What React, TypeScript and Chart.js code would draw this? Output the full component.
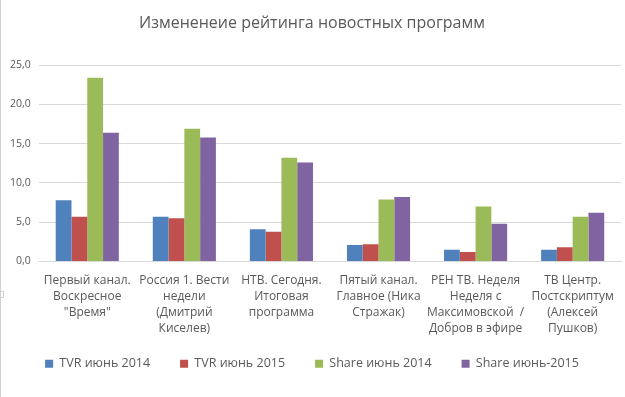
import React, { useEffect, useRef } from "react";
import { Chart, registerables } from "chart.js";

Chart.register(...registerables);

const categories: string[][] = [
  ["Первый канал.", "Воскресное", "\"Время\""],
  ["Россия 1. Вести", "недели", "(Дмитрий", "Киселев)"],
  ["НТВ. Сегодня.", "Итоговая", "программа"],
  ["Пятый канал.", "Главное (Ника", "Стражак)"],
  ["РЕН ТВ. Неделя", "Неделя с", "Максимовской  /", "Добров в эфире"],
  ["ТВ Центр.", "Постскриптум", "(Алексей", "Пушков)"],
];

const seriesNames = ["TVR июнь 2014", "TVR июнь 2015", "Share июнь 2014", "Share июнь-2015"];
const tvr2014 = [7.8, 5.7, 4.1, 2.1, 1.5, 1.5];
const tvr2015 = [5.7, 5.5, 3.8, 2.2, 1.2, 1.8];
const share2014 = [23.4, 16.9, 13.2, 7.9, 7.0, 5.7];
const share2015 = [16.4, 15.8, 12.6, 8.2, 4.8, 6.2];
const colors = ["#4F81BD", "#C0504D", "#9BBB59", "#8064A2"];

const title = "Измененеие рейтинга новостных программ";
const FONT = "'Open Sans', 'Noto Sans', sans-serif";

const frameEdge = {
  id: "frameEdge",
  afterLayout(chart: any) {
    // let the multi-line category labels extend below the shrunk axis box
    const x = chart.scales.x;
    if (x) x.bottom = chart.height;
  },
  afterDraw(chart: any) {
    const ctx = chart.ctx;
    ctx.save();
    ctx.strokeStyle = "#D0D0D0";
    ctx.lineWidth = 1;
    ctx.beginPath();
    ctx.moveTo(0.5, 0);
    ctx.lineTo(0.5, chart.height);
    ctx.stroke();
    ctx.fillStyle = "#fff";
    ctx.fillRect(0.5, 291.5, 3, 6);
    ctx.strokeRect(0.5, 291.5, 3, 6);
    ctx.restore();
  },
};

export default function App() {
  const ref = useRef<HTMLCanvasElement>(null);
  useEffect(() => {
    if (!ref.current) return;
    const data = [tvr2014, tvr2015, share2014, share2015];
    const chart = new Chart(ref.current, {
      type: "bar",
      data: {
        labels: categories,
        datasets: data.map((d, i) => ({
          label: seriesNames[i],
          data: d,
          backgroundColor: colors[i],
          borderWidth: 0,
          barPercentage: 1,
          categoryPercentage: 0.65,
        })),
      },
      plugins: [frameEdge],
      options: {
        animation: false,
        responsive: false,
        maintainAspectRatio: false,
        layout: { padding: { left: 2, right: 3, top: 14, bottom: 17 } },
        plugins: {
          title: {
            display: true,
            text: title,
            color: "#595959",
            font: { family: FONT, size: 16, weight: "normal" },
            padding: { top: 0, bottom: 32 },
          },
          legend: {
            position: "bottom",
            labels: {
              color: "#595959",
              font: { family: FONT, size: 12.5 },
              boxWidth: 8,
              boxHeight: 8,
              padding: 30,
            },
          },
          tooltip: { enabled: false },
        },
        scales: {
          x: {
            grid: { display: false, drawTicks: false },
            border: { color: "#D9D9D9" },
            afterFit: (scale: any) => {
              scale.height -= 20;
            },
            ticks: {
              color: "#595959",
              font: { family: FONT, size: 12, lineHeight: "16px" },
              maxRotation: 0,
              autoSkip: false,
              padding: 11,
            },
          },
          y: {
            min: 0,
            max: 25,
            grid: { color: "#D9D9D9", drawTicks: false },
            border: { display: false },
            ticks: {
              stepSize: 5,
              color: "#595959",
              font: { family: FONT, size: 10.5 },
              padding: 8,
              callback: (v: any) => Number(v).toFixed(1).replace(".", ","),
            },
          },
        },
      },
    });
    return () => chart.destroy();
  }, []);
  return (
    <div style={{ position: "absolute", left: 0, top: 0, width: 625, height: 397, background: "#fff" }}>
      <canvas ref={ref} width={625} height={397} style={{ display: "block" }} />
    </div>
  );
}
